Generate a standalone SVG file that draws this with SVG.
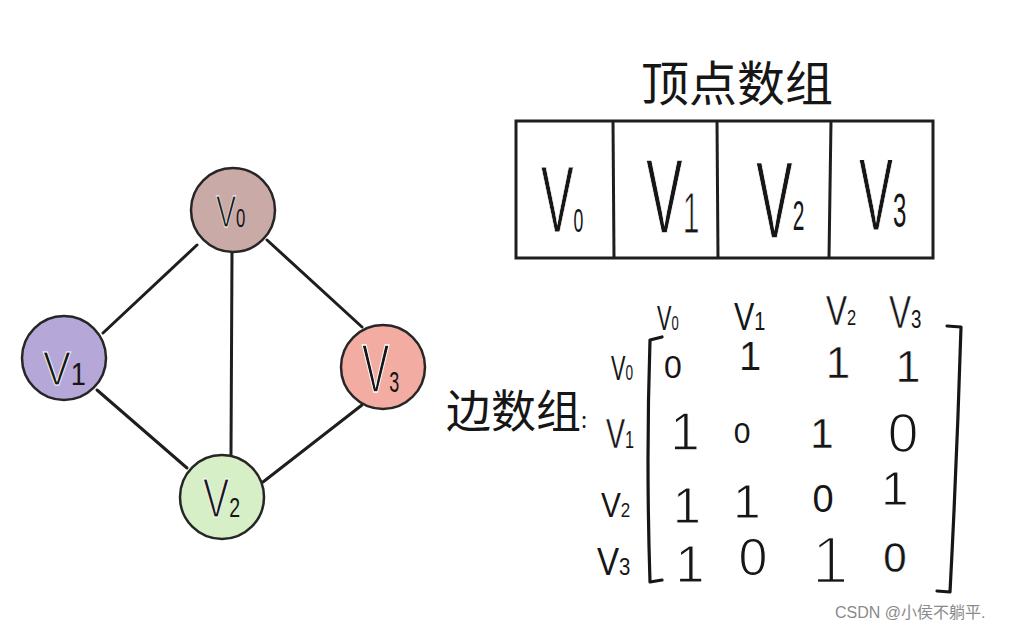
<svg xmlns="http://www.w3.org/2000/svg" width="1026" height="630" viewBox="0 0 1026 630">
<style>
.bg{fill:#ffffff}
.node{stroke:#262626;stroke-width:2.5}
.edge{stroke:#1e1e1e;stroke-width:3;fill:none;stroke-linecap:round}
.hw{font-family:"Liberation Sans",sans-serif;fill:#161616;stroke:#ffffff}
.cn{font-family:"Noto Sans CJK SC",sans-serif;fill:#161616}
.box{fill:none;stroke:#1e1e1e;stroke-width:3}
.br{fill:none;stroke:#161616;stroke-width:3.2;stroke-linecap:round;stroke-linejoin:round}
.d{font-family:"Liberation Sans",sans-serif;fill:#161616;text-anchor:middle;stroke:#ffffff}
.wm{font-family:"Liberation Sans","Noto Sans CJK SC",sans-serif;fill:#8a8a8a;font-size:16px}
</style>
<rect class="bg" x="0" y="0" width="1026" height="630"/>

<g id="connectors">
  <line class="edge" x1="197" y1="245" x2="103" y2="333"/>
  <line class="edge" x1="267" y1="240" x2="362" y2="327"/>
  <line class="edge" x1="232" y1="252" x2="231" y2="455"/>
  <line class="edge" x1="97" y1="390" x2="187" y2="468"/>
  <line class="edge" x1="362" y1="405" x2="263" y2="482"/>
</g>

<g id="node-v0">
  <circle class="node" cx="233" cy="210" r="42" fill="#c9aaa6"/>
  <text class="hw" transform="translate(216,227) scale(0.67,1)" font-size="45" stroke="#c9aaa6" stroke-width="0.8">V<tspan font-size="25" stroke-width="0">0</tspan></text>
</g>
<g id="node-v1">
  <circle class="node" cx="64" cy="358" r="42" fill="#b5a8d8"/>
  <text class="hw" transform="translate(43,385) scale(0.85,1)" font-size="49" stroke="#b5a8d8" stroke-width="1">V<tspan font-size="32" stroke-width="0">1</tspan></text>
</g>
<g id="node-v3">
  <circle class="node" cx="383" cy="367" r="42" fill="#f2aca1"/>
  <text class="hw" transform="translate(362,392) scale(0.6,1)" font-size="68" stroke="#f2aca1" stroke-width="1.5">V<tspan font-size="30" stroke-width="0">3</tspan></text>
</g>
<g id="node-v2">
  <circle class="node" cx="222" cy="497" r="42" fill="#d7efc7"/>
  <text class="hw" transform="translate(203,517) scale(0.7,1)" font-size="56" stroke="#d7efc7" stroke-width="1.2">V<tspan font-size="28" stroke-width="0">2</tspan></text>
</g>

<g id="vertex-array">
  <text class="cn" x="737" y="101" font-size="48" text-anchor="middle">顶点数组</text>
  <rect class="box" x="516" y="121" width="417" height="137"/>
  <line class="box" x1="613" y1="121" x2="614" y2="258"/>
  <line class="box" x1="717" y1="121" x2="718" y2="258"/>
  <line class="box" x1="831" y1="121" x2="829" y2="258"/>
  <text class="hw" transform="translate(541,232) scale(0.52,1)" font-size="94" stroke-width="1">V<tspan font-size="34" stroke-width="0">0</tspan></text>
  <text class="hw" transform="translate(646,233) scale(0.52,1)" font-size="106" stroke-width="1.5">V<tspan font-size="58" stroke-width="1.2">1</tspan></text>
  <text class="hw" transform="translate(756,238) scale(0.5,1)" font-size="110" stroke-width="1.5">V<tspan font-size="42" dy="-8" stroke-width="0">2</tspan></text>
  <text class="hw" transform="translate(859,230) scale(0.5,1)" font-size="102" stroke-width="1.2">V<tspan font-size="48" dy="-3" stroke-width="0">3</tspan></text>
</g>

<g id="edge-array">
  <text class="cn" x="446" y="428" font-size="45">边数组<tspan font-size="22">:</tspan></text>
  <text class="hw" transform="translate(657,330) scale(0.62,1)" font-size="35" stroke-width="0">V<tspan font-size="21">0</tspan></text>
  <text class="hw" transform="translate(734,330) scale(0.8,1)" font-size="38" stroke-width="0">V<tspan font-size="25">1</tspan></text>
  <text class="hw" transform="translate(826,325) scale(0.75,1)" font-size="42" stroke-width="0.3">V<tspan font-size="22" stroke-width="0">2</tspan></text>
  <text class="hw" transform="translate(889,328) scale(0.72,1)" font-size="46" stroke-width="0.6">V<tspan font-size="26" stroke-width="0">3</tspan></text>
  <text class="hw" transform="translate(611,380) scale(0.62,1)" font-size="35" stroke-width="0">V<tspan font-size="22">0</tspan></text>
  <text class="hw" transform="translate(606,448) scale(0.68,1)" font-size="42" stroke-width="0.3">V<tspan font-size="24" stroke-width="0">1</tspan></text>
  <text class="hw" transform="translate(601,517) scale(0.85,1)" font-size="35" stroke-width="0">V<tspan font-size="20">2</tspan></text>
  <text class="hw" transform="translate(597,575) scale(0.85,1)" font-size="39" stroke-width="0">V<tspan font-size="24">3</tspan></text>
  <path class="br" d="M662,337 L650,340 Q646,460 650,582 L662,580"/>
  <path class="br" d="M947,326 L961,327 Q957,460 950,592 L937,591"/>
  <text class="d" x="673" y="378" font-size="32" stroke-width="0">0</text>
  <text class="d" x="750" y="370" font-size="40" stroke-width="0.2">1</text>
  <text class="d" x="838" y="378" font-size="44" stroke-width="0.5">1</text>
  <text class="d" x="908" y="382" font-size="45" stroke-width="0.6">1</text>
  <text class="d" x="685" y="450" font-size="53" stroke-width="1.3">1</text>
  <text class="d" x="742" y="443" font-size="30" stroke-width="0">0</text>
  <text class="d" x="822" y="448" font-size="42" stroke-width="0.3">1</text>
  <text class="d" x="903" y="452" font-size="55" stroke-width="1.5">0</text>
  <text class="d" x="687" y="523" font-size="50" stroke-width="1">1</text>
  <text class="d" x="747" y="518" font-size="49" stroke-width="0.9">1</text>
  <text class="d" x="823" y="512" font-size="38" stroke-width="0">0</text>
  <text class="d" x="895" y="505" font-size="49" stroke-width="0.9">1</text>
  <text class="d" x="690" y="582" font-size="52" stroke-width="1.2">1</text>
  <text class="d" x="753" y="575" font-size="52" stroke-width="1.2">0</text>
  <text class="d" x="830" y="583" font-size="66" stroke-width="2.5">1</text>
  <text class="d" x="895" y="572" font-size="42" stroke-width="0.3">0</text>
</g>

<text class="wm" x="835" y="618">CSDN @小侯不躺平.</text>
</svg>
